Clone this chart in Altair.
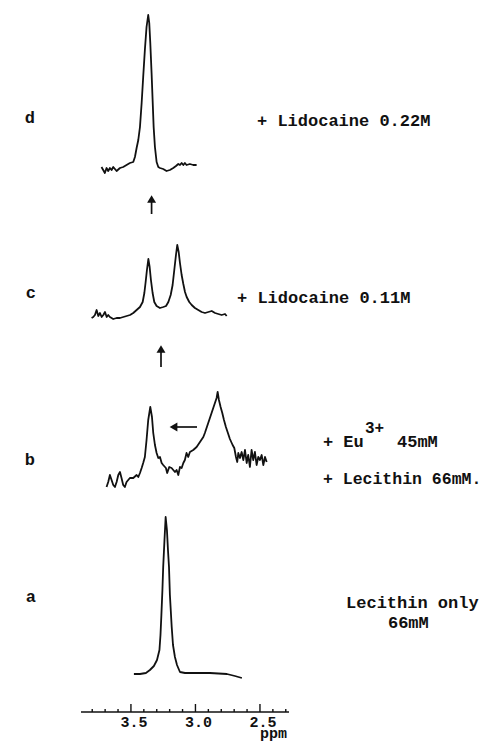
import altair as alt
import pandas as pd

# ---- spectra (chemical shift in ppm, intensity in arbitrary units) ----
a_ppm = [3.477, 3.430, 3.384, 3.353, 3.322, 3.298, 3.279, 3.271, 3.264, 3.256, 3.250, 3.240, 3.231,
         3.221, 3.213, 3.205, 3.198, 3.184, 3.174, 3.159, 3.143, 3.120, 3.081, 3.019, 2.888, 2.756,
         2.694, 2.640]
a_int = [0, 0, 1, 4, 8, 14, 24, 39, 59, 84, 107, 134, 157,
         144, 124, 107, 79, 47, 29, 17, 9, 2, 1, 1, 1, 0,
         -2, -4]

b_ppm = [3.689, 3.676, 3.663, 3.650, 3.637, 3.624, 3.611, 3.598, 3.585, 3.573, 3.560, 3.547, 3.534,
         3.521, 3.508, 3.482, 3.456, 3.443, 3.430, 3.417, 3.405, 3.392, 3.379, 3.366, 3.350, 3.337,
         3.327, 3.314, 3.301, 3.288, 3.275, 3.262, 3.250, 3.229, 3.219, 3.203, 3.185, 3.172, 3.159,
         3.146, 3.133, 3.120, 3.107, 3.094, 3.082, 3.069, 3.056, 3.043, 3.017, 2.991, 2.965, 2.939,
         2.927, 2.914, 2.901, 2.888, 2.875, 2.862, 2.849, 2.836, 2.828, 2.818, 2.805, 2.792, 2.779,
         2.764, 2.751, 2.733, 2.712, 2.699, 2.686, 2.676, 2.668, 2.655, 2.642, 2.629, 2.616, 2.603,
         2.591, 2.578, 2.565, 2.552, 2.539, 2.526, 2.513, 2.500, 2.487, 2.474, 2.461, 2.448]
b_int = [0, 5, 12, 7, 2, 0, 5, 12, 15, 9, 2, 0, 5,
         7, 9, 9, 12, 10, 14, 19, 24, 30, 47, 67, 80, 70,
         54, 42, 34, 29, 30, 24, 22, 19, 14, 20, 19, 17, 15,
         17, 12, 20, 19, 24, 27, 34, 30, 35, 37, 40, 45, 50,
         54, 59, 64, 69, 74, 79, 84, 89, 95, 87, 80, 74, 67,
         60, 55, 48, 42, 39, 30, 25, 34, 29, 35, 27, 37, 24,
         32, 20, 37, 27, 35, 22, 30, 27, 32, 22, 30, 25]

c_ppm = [3.805, 3.792, 3.779, 3.766, 3.753, 3.740, 3.727, 3.714, 3.701, 3.688, 3.676, 3.663, 3.650,
         3.637, 3.611, 3.585, 3.559, 3.533, 3.507, 3.482, 3.456, 3.430, 3.409, 3.396, 3.386, 3.376,
         3.365, 3.355, 3.345, 3.332, 3.319, 3.301, 3.275, 3.249, 3.228, 3.210, 3.192, 3.177, 3.164,
         3.151, 3.141, 3.130, 3.120, 3.107, 3.094, 3.081, 3.068, 3.048, 3.029, 3.004, 2.978, 2.952,
         2.926, 2.900, 2.874, 2.848, 2.823, 2.797, 2.771, 2.758]
c_int = [0, 1, 3, 8, 2, 5, 1, 3, 6, 1, 3, 1, 0,
         -1, 0, 0, 1, 2, 3, 5, 8, 11, 16, 25, 36, 48,
         59, 51, 38, 25, 16, 12, 10, 11, 12, 16, 23, 33, 48,
         63, 73, 66, 55, 43, 34, 26, 21, 16, 13, 10, 8, 6,
         5, 6, 7, 5, 4, 3, 4, 2]

d_ppm = [3.728, 3.715, 3.702, 3.689, 3.676, 3.663, 3.650, 3.637, 3.624, 3.611, 3.585, 3.560, 3.534,
         3.508, 3.482, 3.469, 3.456, 3.443, 3.430, 3.417, 3.405, 3.392, 3.379, 3.366, 3.358, 3.350,
         3.340, 3.332, 3.324, 3.314, 3.301, 3.288, 3.275, 3.250, 3.224, 3.198, 3.172, 3.151, 3.133,
         3.120, 3.107, 3.094, 3.082, 3.069, 3.043, 3.017, 2.991]
d_int = [1, -2, -5, 0, -3, 0, -2, 1, -1, -3, 0, 1, 3,
         5, 6, 11, 20, 28, 41, 65, 91, 118, 141, 153, 145, 125,
         95, 68, 41, 21, 6, 1, 0, -1, -3, -2, 0, 2, 4,
         3, 5, 3, 5, 3, 4, 3, 3]

# vertical offset of each trace in the stacked display
trace_offsets = {"a": 38, "b": 225, "c": 394, "d": 544}

# axis ticks
major_ticks = [3.5, 3.0, 2.5]
major_labels = ["3.5", "3.0", "2.5"]
minor_ticks = [3.8, 3.7, 3.6, 3.4, 3.3, 3.2, 3.1, 2.9, 2.8, 2.7, 2.6, 2.4, 2.3]
axis_min, axis_max = 2.275, 3.887

# ---- build tables ----
rows = []
for name, xs, ys in [("a", a_ppm, a_int), ("b", b_ppm, b_int), ("c", c_ppm, c_int), ("d", d_ppm, d_int)]:
    for i, (x, y) in enumerate(zip(xs, ys)):
        rows.append({"trace": name, "i": i, "ppm": x, "h": y + trace_offsets[name]})
spec = pd.DataFrame(rows)

xs = alt.Scale(domain=[axis_max, axis_min], nice=False, zero=False)
ys = alt.Scale(domain=[0, 704], nice=False, zero=False)
FONT = "Liberation Mono"
INK = "#111111"

lines = alt.Chart(spec).mark_line(color=INK, strokeWidth=1.8, strokeJoin="round").encode(
    x=alt.X("ppm:Q", scale=xs, axis=None),
    y=alt.Y("h:Q", scale=ys, axis=None),
    detail="trace:N",
    order="i:Q",
)

# arrows (shafts + heads)
shafts = pd.DataFrame({
    "x": [3.340, 3.267, 2.988],
    "x2": [3.340, 3.267, 3.180],
    "y": [498, 345, 285],
    "y2": [512, 360, 285],
})
shaft_layer = alt.Chart(shafts).mark_rule(color=INK, strokeWidth=1.7).encode(
    x=alt.X("x:Q", scale=xs), x2="x2", y=alt.Y("y:Q", scale=ys), y2="y2"
)
heads = pd.DataFrame({"x": [3.340, 3.267, 3.170], "y": [513, 363, 285],
                      "shape": ["triangle-up", "triangle-up", "triangle-left"]})
head_layer = alt.Chart(heads).mark_point(filled=True, color=INK, opacity=1, size=80).encode(
    x=alt.X("x:Q", scale=xs), y=alt.Y("y:Q", scale=ys),
    shape=alt.Shape("shape:N", scale=None),
)

# manual axis
axis_line = alt.Chart(pd.DataFrame({"x": [axis_max], "x2": [axis_min], "y": [0]})).mark_rule(
    color=INK, strokeWidth=1.5).encode(x=alt.X("x:Q", scale=xs), x2="x2", y=alt.Y("y:Q", scale=ys))
tick_df = pd.DataFrame({"x": major_ticks + minor_ticks,
                        "len": [8] * len(major_ticks) + [3] * len(minor_ticks)})
tick_df["y"] = 0
tick_layer = alt.Chart(tick_df).mark_rule(color=INK, strokeWidth=1.4).encode(
    x=alt.X("x:Q", scale=xs), y=alt.Y("y:Q", scale=ys), y2="len"
)
tick_lab = alt.Chart(pd.DataFrame({"x": major_ticks, "t": major_labels, "y": [-10] * 3})).mark_text(
    font=FONT, fontWeight="bold", fontSize=15, color=INK, align="center", baseline="middle", dx=3
).encode(x=alt.X("x:Q", scale=xs), y=alt.Y("y:Q", scale=ys), text="t:N")

# annotations
notes = pd.DataFrame([
    {"x": 4.283, "y": 594, "t": "d", "fs": 17},
    {"x": 4.275, "y": 419, "t": "c", "fs": 17},
    {"x": 4.283, "y": 252, "t": "b", "fs": 17},
    {"x": 4.275, "y": 115, "t": "a", "fs": 17},
])
letter_layer = alt.Chart(notes).mark_text(
    font=FONT, fontWeight="bold", color=INK, align="center", baseline="middle"
).encode(x=alt.X("x:Q", scale=xs), y=alt.Y("y:Q", scale=ys), text="t:N",
         size=alt.Size("fs:Q", scale=None))

labels = pd.DataFrame([
    {"x": 2.523, "y": 591, "t": "+ Lidocaine 0.22M", "fs": 17},
    {"x": 2.678, "y": 414, "t": "+ Lidocaine 0.11M", "fs": 17},
    {"x": 2.012, "y": 270, "t": "+ Eu", "fs": 17},
    {"x": 1.686, "y": 284, "t": "3+", "fs": 16},
    {"x": 1.438, "y": 270, "t": "45mM", "fs": 17},
    {"x": 2.012, "y": 233, "t": "+ Lecithin 66mM.", "fs": 16.5},
    {"x": 1.833, "y": 109, "t": "Lecithin only", "fs": 17},
    {"x": 1.508, "y": 89, "t": "66mM", "fs": 17},
])
label_layer = alt.Chart(labels).mark_text(
    font=FONT, fontWeight="bold", color=INK, align="left", baseline="middle"
).encode(x=alt.X("x:Q", scale=xs), y=alt.Y("y:Q", scale=ys), text="t:N",
         size=alt.Size("fs:Q", scale=None))

unit_layer = alt.Chart(pd.DataFrame({"x": [2.5], "y": [-25.5], "t": ["ppm"]})).mark_text(
    font=FONT, fontWeight="bold", fontSize=15, color=INK, align="left", baseline="alphabetic"
).encode(x=alt.X("x:Q", scale=xs), y=alt.Y("y:Q", scale=ys), text="t:N")

chart = alt.layer(
    lines, shaft_layer, head_layer, axis_line, tick_layer, tick_lab, letter_layer, label_layer,
    unit_layer
).properties(
    width=208, height=704,
    autosize=alt.AutoSizeParams(type="none"),
    padding={"left": 73, "top": 0, "right": 193, "bottom": 29},
    background="white",
).configure_view(stroke=None)

chart.save("out.html", embed_options={"renderer": "svg", "actions": False})
